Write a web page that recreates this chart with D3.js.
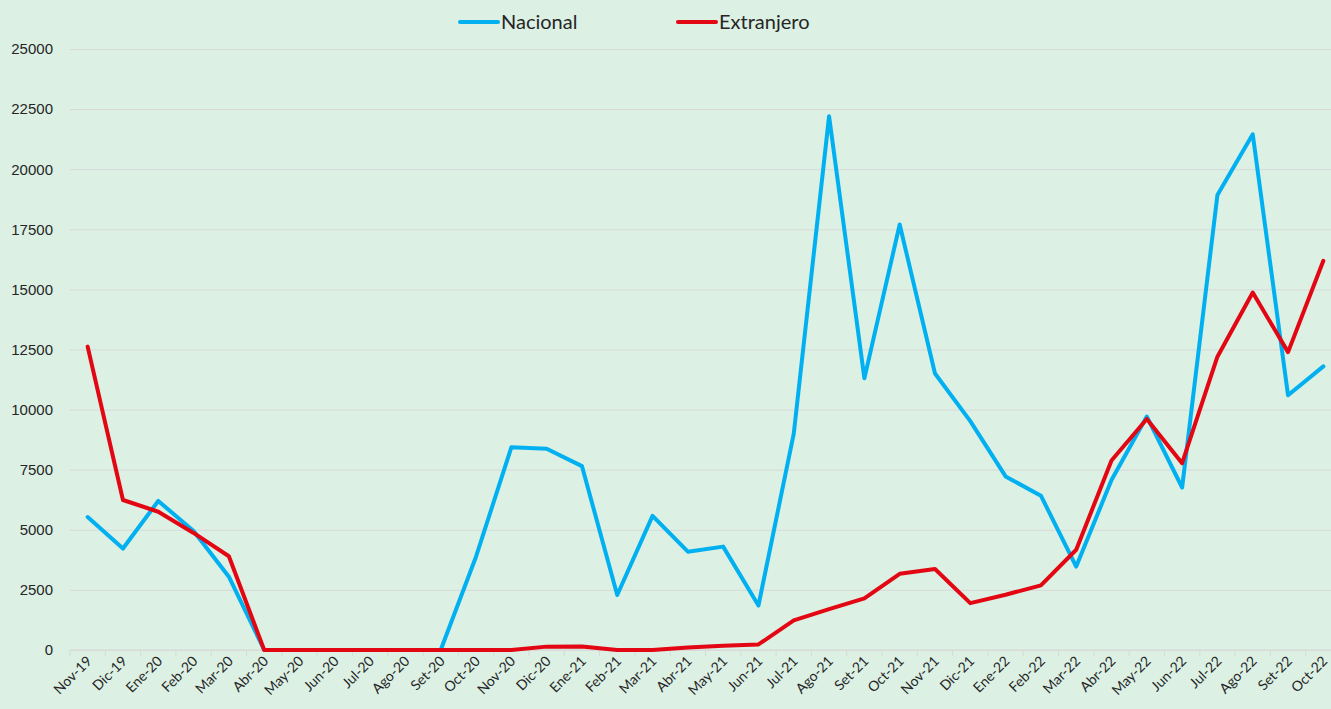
<!DOCTYPE html>
<html>
<head>
<meta charset="utf-8">
<script src="https://cdn.jsdelivr.net/npm/d3@7"></script>
<style>
  body { margin: 0; background: #dcf0e4; }
  svg { display: block; font-family: Lato, "Open Sans", sans-serif; }
  .grid line { stroke: #d9d9d9; stroke-width: 1; }
  .grid path { display: none; }
  .axis text { fill: #262626; }
</style>
</head>
<body>
<svg width="1331" height="709"></svg>
<script>
// months (Nov-19 .. Oct-22)
var months = ["Nov-19","Dic-19","Ene-20","Feb-20","Mar-20","Abr-20","May-20","Jun-20","Jul-20","Ago-20","Set-20",
  "Oct-20","Nov-20","Dic-20","Ene-21","Feb-21","Mar-21","Abr-21","May-21","Jun-21","Jul-21","Ago-21","Set-21",
  "Oct-21","Nov-21","Dic-21","Ene-22","Feb-22","Mar-22","Abr-22","May-22","Jun-22","Jul-22","Ago-22","Set-22","Oct-22"];

var nacional = [5530,4220,6200,4950,3050,0,0,0,0,0,0,
  3880,8430,8370,7650,2290,5580,4090,4300,1850,9000,22200,11300,
  17700,11500,9520,7220,6420,3470,7070,9710,6760,18930,21450,10600,11800];

var extranjero = [12620,6240,5750,4870,3900,0,0,0,0,0,0,
  0,0,140,150,0,0,100,180,230,1230,1700,2150,
  3170,3370,1950,2300,2690,4170,7880,9610,7770,12200,14870,12390,16190];

var yTicks = [0,2500,5000,7500,10000,12500,15000,17500,20000,22500,25000];

var series = [
  { name: "Nacional", color: "#00b0f0", values: nacional },
  { name: "Extranjero", color: "#e30613", values: extranjero }
];

var svg = d3.select("svg"),
    margin = { top: 49, left: 70, bottom: 59 },
    plotW = 1271,   // plot runs a little past the window edge
    height = +svg.attr("height") - margin.top - margin.bottom;

var x = d3.scaleBand().domain(months).range([0, plotW]);
var y = d3.scaleLinear().domain([0, 25000]).range([height, 0]);

var g = svg.append("g").attr("transform", "translate(" + margin.left + "," + margin.top + ")");

// horizontal gridlines + labels
var ya = g.append("g").attr("class", "grid axis")
  .call(d3.axisLeft(y).tickValues(yTicks).tickSize(-plotW).tickPadding(17).tickFormat(d3.format("d")));
ya.selectAll("text").style("font-size", "15px");

// x axis with tick marks between categories
var xa = g.append("g").attr("transform", "translate(0," + height + ")");
xa.append("line").attr("x1", 0).attr("x2", plotW).attr("stroke", "#d9d9d9");
xa.selectAll(".tk").data(d3.range(months.length + 1)).enter().append("line")
  .attr("x1", function (i) { return i * x.step(); })
  .attr("x2", function (i) { return i * x.step(); })
  .attr("y1", 0).attr("y2", 6).attr("stroke", "#d9d9d9");
xa.selectAll(".lb").data(months).enter().append("text")
  .attr("class", "axis")
  .attr("text-anchor", "end")
  .attr("transform", function (d) {
    return "translate(" + (x(d) + x.bandwidth() / 2 + 5) + ",12) rotate(-45)";
  })
  .style("font-size", "14px").attr("fill", "#262626")
  .text(function (d) { return d; });

// lines
var line = d3.line()
  .x(function (d, i) { return x(months[i]) + x.bandwidth() / 2; })
  .y(function (d) { return y(d); });

series.forEach(function (s) {
  g.append("path").datum(s.values)
    .attr("fill", "none")
    .attr("stroke", s.color)
    .attr("stroke-width", 4)
    .attr("stroke-linejoin", "round")
    .attr("stroke-linecap", "round")
    .attr("d", line);
});

// legend
var lg = svg.append("g").attr("transform", "translate(460,22)");
var lgX = [0, 218];
series.forEach(function (s, i) {
  var it = lg.append("g").attr("transform", "translate(" + lgX[i] + ",0)");
  it.append("line").attr("x1", 0).attr("x2", 38).attr("stroke", s.color)
    .attr("stroke-width", 4).attr("stroke-linecap", "round");
  it.append("text").attr("x", 41).attr("dy", "0.35em")
    .style("font-size", "20px").attr("fill", "#262626").text(s.name);
});
</script>
</body>
</html>
